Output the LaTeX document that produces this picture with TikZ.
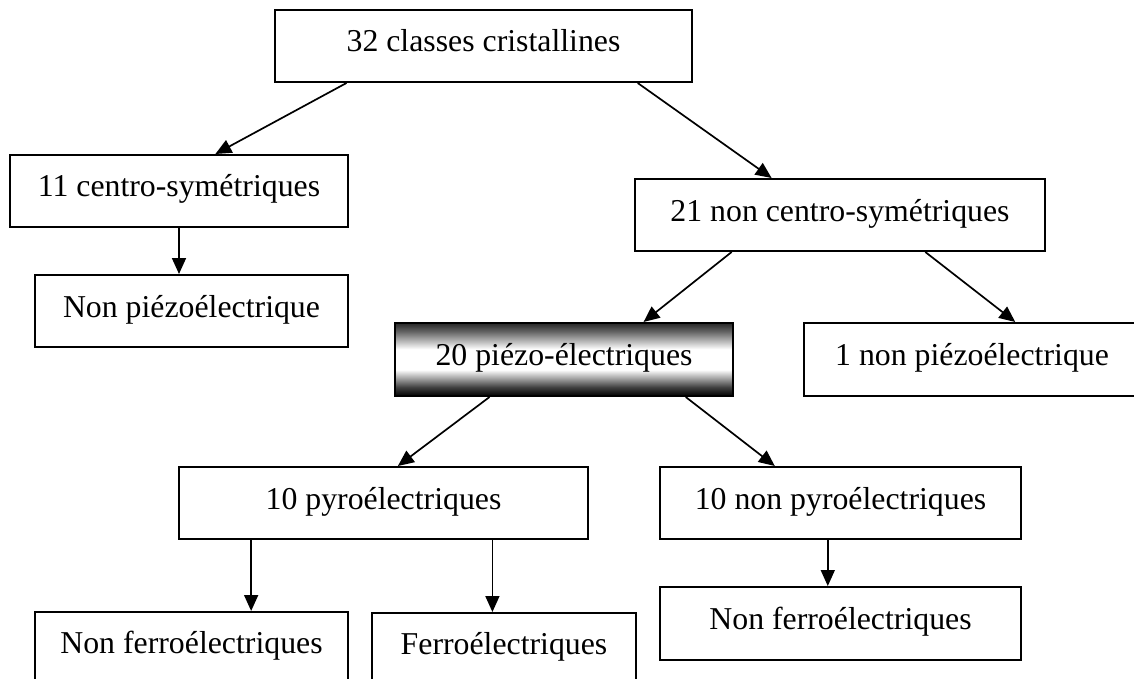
\documentclass[tikz,border=0pt]{standalone}
\usepackage{fontspec}
\setmainfont{Liberation Serif}
\usetikzlibrary{arrows.meta,calc}
\pgfdeclareverticalshading{piezo}{100bp}{color(0bp)=(black); color(25bp)=(black); color(31bp)=(black!75); color(43bp)=(white); color(57bp)=(white); color(69bp)=(black!60); color(75bp)=(black!85); color(100bp)=(black!85)}
\begin{document}
\begin{tikzpicture}[x=0.5pt,y=-0.5pt,
  box/.style={draw=black, line width=1pt, rectangle, inner sep=0pt,
    font=\fontsize{15.9pt}{19pt}\selectfont, text height=0.8em, text depth=0.2em},
  cutbox/.style={box, anchor=north, text height=20.5pt, text depth=16.5pt},
  arr/.style={line width=0.85pt, -{Triangle[length=8pt,width=7pt]}}]
\useasboundingbox (0,0) rectangle (1134,679);
\clip (0,0) rectangle (1134,679);

\node[box, minimum width=208.5pt, minimum height=36pt] (A) at (483.5,46) {32 classes cristallines};
\node[box, minimum width=169pt, minimum height=36pt] (B) at (179,191) {11 centro-symétriques};
\node[box, minimum width=205pt, minimum height=36pt] (C) at (840,215) {21 non centro-symétriques};
\node[box, minimum width=156.5pt, minimum height=36pt] (D) at (191.5,311) {Non piézoélectrique};
\node[box, shade, shading=piezo, minimum width=169pt, minimum height=36.5pt] (E) at (564,359.5) {20 piézo-électriques};
\node[box, minimum width=168pt, minimum height=36.5pt] (F) at (972,359.5) {1 non piézoélectrique};
\node[box, minimum width=204.5pt, minimum height=36pt] (G) at (383.5,503) {10 pyroélectriques};
\node[box, minimum width=180.5pt, minimum height=36pt] (H) at (840.5,503) {10 non pyroélectriques};
\node[box, minimum width=180.5pt, minimum height=36.5pt] (K) at (840.5,623.5) {Non ferroélectriques};
\node[cutbox, minimum width=156.5pt] (I) at (191.5,611) {Non ferroélectriques};
\node[cutbox, minimum width=132pt] (J) at (504,612) {Ferroélectriques};

% oblique connectors
\coordinate (ab) at ($(A.south west)!0.173!(A.south east)$);
\coordinate (ba) at ($(B.north west)!0.607!(B.north east)$);
\coordinate (ac) at ($(A.south west)!0.868!(A.south east)$);
\coordinate (ca) at ($(C.north west)!0.334!(C.north east)$);
\coordinate (ce) at ($(C.south west)!0.237!(C.south east)$);
\coordinate (ec) at ($(E.north west)!0.734!(E.north east)$);
\coordinate (cf) at ($(C.south west)!0.707!(C.south east)$);
\coordinate (fc) at ($(F.north west)!0.628!(F.north east)$);
\coordinate (eg) at ($(E.south west)!0.281!(E.south east)$);
\coordinate (ge) at ($(G.north west)!0.535!(G.north east)$);
\coordinate (eh) at ($(E.south west)!0.858!(E.south east)$);
\coordinate (he) at ($(H.north west)!0.319!(H.north east)$);
\draw[arr] (ab) -- (ba);
\draw[arr] (ac) -- (ca);
\draw[arr] (ce) -- (ec);
\draw[arr] (cf) -- (fc);
\draw[arr] (eg) -- (ge);
\draw[arr] (eh) -- (he);

% vertical connectors
\coordinate (bd) at (B.south);
\draw[arr] (bd) -- (bd |- D.north);
\coordinate (gi) at ($(G.south west)!0.178!(G.south east)$);
\draw[arr] (gi) -- (gi |- I.north);
\coordinate (gj) at ($(G.south west)!0.765!(G.south east)$);
\draw[arr] (gj) -- (gj |- J.north);
\coordinate (hk) at ($(H.south west)!0.465!(H.south east)$);
\draw[arr] (hk) -- (hk |- K.north);
\end{tikzpicture}
\end{document}
